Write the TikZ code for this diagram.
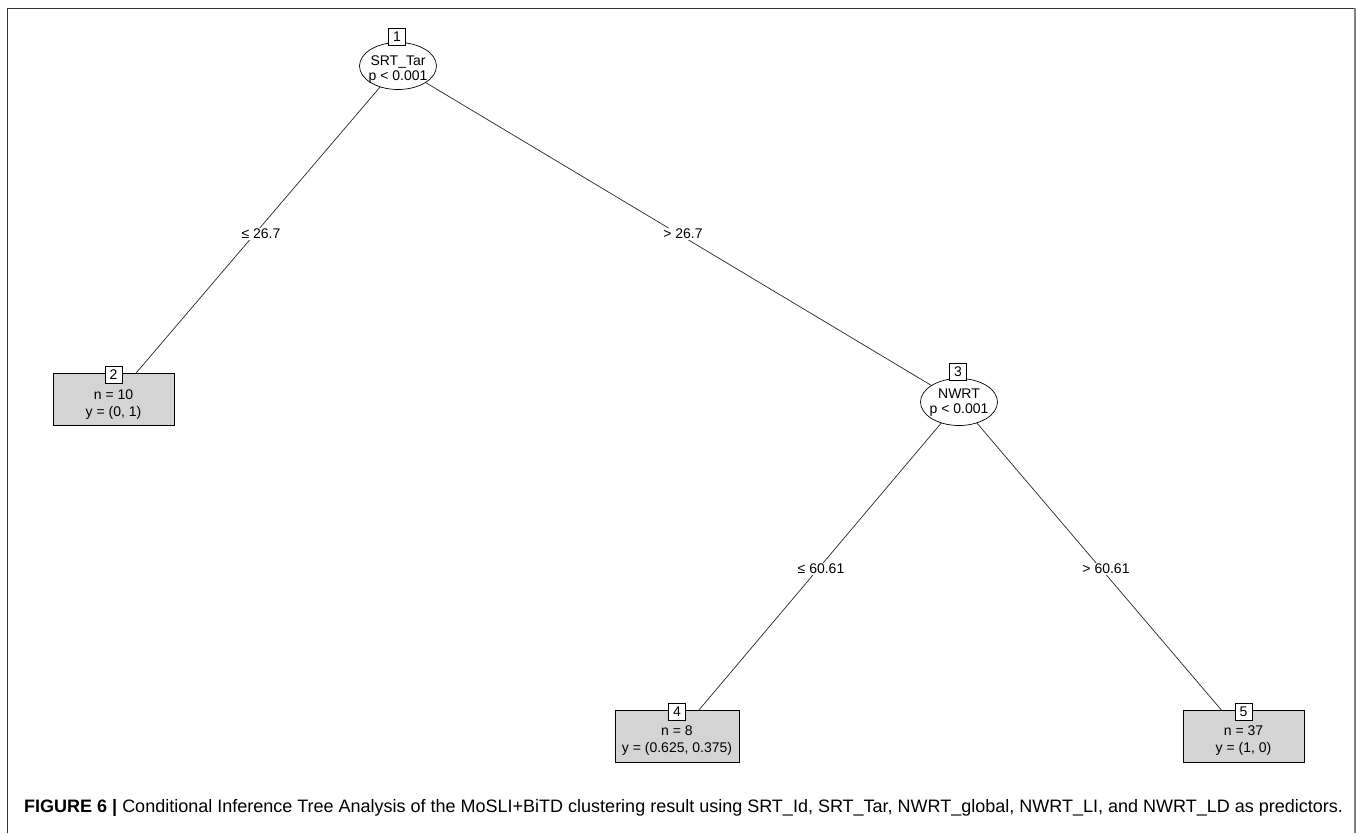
\documentclass[tikz,border=0pt]{standalone}
\usepackage{fontspec}
\setmainfont{Liberation Sans}
\usetikzlibrary{shapes.geometric}
\begin{document}
\begin{tikzpicture}[x=1pt,y=-1pt,
  edge/.style={draw=black!85,line width=0.7pt},
  txt/.style={align=center,inner sep=0pt,font=\fontsize{14}{15}\selectfont},
  leaftxt/.style={align=center,inner sep=0pt,font=\fontsize{14}{17}\selectfont},
  inner/.style={ellipse,draw=black,line width=0.7pt,fill=white,minimum width=77pt,minimum height=47pt,inner sep=0pt},
  leaf/.style={rectangle,draw=black,line width=0.8pt,fill=black!17,minimum width=#1,minimum height=52pt,inner sep=0pt},
  idbox/.style={rectangle,draw=black,line width=0.7pt,fill=white,minimum width=17pt,minimum height=17pt,inner sep=0pt,font=\fontsize{14}{15}\selectfont},
  elab/.style={fill=white,inner sep=1pt,font=\fontsize{14}{15}\selectfont},
  frame/.style={line width=1pt}]
\useasboundingbox (0,0) rectangle (1357,833);
% frame
\draw[frame,black!80] (7,833) -- (7,8) -- (1354,8);
\draw[line width=2pt,black!50] (1355,8) -- (1355,833);
% node coordinates
\coordinate (c1) at (398,66);
\coordinate (c2) at (113.5,399.5);
\coordinate (c3) at (959,402);
\coordinate (c4) at (677,736);
\coordinate (c5) at (1243.5,736);
% edges (behind nodes)
\draw[edge] (c1) -- (c2);
\draw[edge] (c1) -- (c3);
\draw[edge] (c3) -- (c4);
\draw[edge] (c3) -- (c5);
% edge labels
\node[elab] (l12) at (261,234) {≤ 26.7};
\node[elab] (l13) at (683,234) {> 26.7};
\node[elab] (l34) at (821,569) {≤ 60.61};
\node[elab] (l35) at (1106,569) {> 60.61};
% inner nodes
\node[inner,label={[txt,yshift=-4pt]center:{SRT\_Tar\\p < 0.001}}] (n1) at (c1) {};
\node[inner,label={[txt,yshift=-1pt]center:{NWRT\\p < 0.001}}] (n3) at (c3) {};
% leaves
\node[leaf=121pt,label={[leaftxt,yshift=-5pt]center:{n = 10\\y = (0, 1)}}] (n2) at (c2) {};
\node[leaf=124pt,label={[leaftxt,yshift=-5pt]center:{n = 8\\y = (0.625, 0.375)}}] (n4) at (c4) {};
\node[leaf=121pt,label={[leaftxt,yshift=-5pt]center:{n = 37\\y = (1, 0)}}] (n5) at (c5) {};
% id boxes
\node[idbox] (i1) at (397,36.5) {1};
\node[idbox] (i2) at (113.5,375) {2};
\node[idbox] (i3) at (958,372) {3};
\node[idbox] (i4) at (677,712) {4};
\node[idbox] (i5) at (1243.5,712) {5};
% caption
\node[anchor=base west,inner sep=0pt,font=\fontsize{18}{20}\selectfont] (cap) at (24,812)
  {\textbf{FIGURE 6 |} Conditional Inference Tree Analysis of the MoSLI+BiTD clustering result using SRT\_Id, SRT\_Tar, NWRT\_global, NWRT\_LI, and NWRT\_LD as predictors.};
\end{tikzpicture}
\end{document}
